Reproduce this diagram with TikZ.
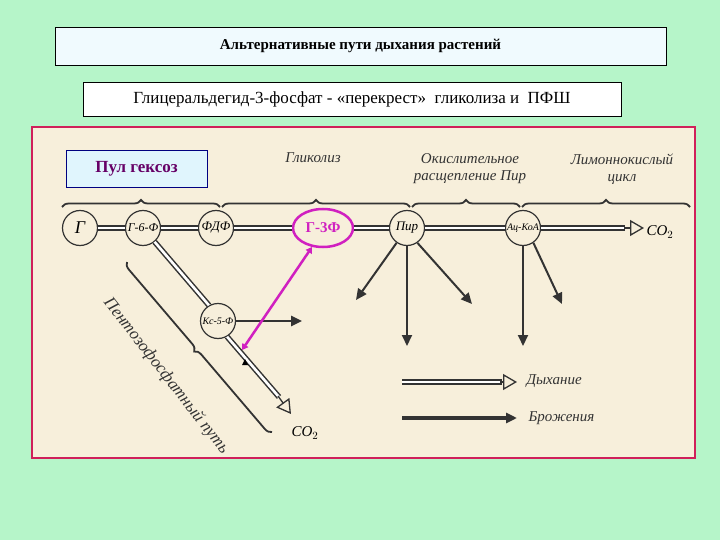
\documentclass[tikz,border=0pt]{standalone}
\usepackage{fontspec}
\setmainfont{Liberation Serif}
\usetikzlibrary{arrows.meta,decorations.pathreplacing,calc,shapes.geometric}
\definecolor{bg}{HTML}{B6F5C9}
\definecolor{beige}{HTML}{F7EFDB}
\definecolor{frame}{HTML}{D0205A}
\definecolor{mag}{HTML}{D020C0}
\tikzset{
 met/.style={circle,draw=black!80,line width=1.2pt,fill=beige,minimum size=35pt,inner sep=0pt,font=\itshape},
 dbl/.style={draw=black!80,double=white,double distance=2.6pt,line width=1.5pt},
 ferm/.style={draw=black!80,line width=2pt,-{Triangle[length=11pt,width=10pt]}},
 brc/.style={draw=black!80,line width=1.8pt,decorate,decoration={brace,amplitude=7pt}},
 lbl/.style={font=\itshape\fontsize{15}{17}\selectfont,align=center,text=black!80},
 opentip/.style={draw=black!80,line width=1.3pt,-{Triangle[open,length=14pt,width=16pt]}}
}
\begin{document}
\begin{tikzpicture}[x=1pt,y=-1pt]
\useasboundingbox (0,0) rectangle (720,540);
\fill[bg] (0,0) rectangle (720,540);
\node[draw,fill=cyan!6,minimum width=611pt,minimum height=38pt,font=\bfseries\fontsize{15}{17}\selectfont] (title) at (360.5,46) {Альтернативные пути дыхания растений};
\node[draw,fill=white,minimum width=538pt,minimum height=34pt,font=\fontsize{17}{19}\selectfont] (sub) at (352,99) {Глицеральдегид-3-фосфат - «перекрест»\ \ гликолиза и\ \ ПФШ};
\node[draw=frame,line width=2pt,fill=beige,minimum width=663pt,minimum height=331pt] (frm) at (363.5,292.5) {};
\node[draw=blue!50!black,fill=cyan!12,minimum width=141pt,minimum height=37pt,font=\bfseries\fontsize{17}{19}\selectfont,text=violet!80!black] (pool) at (136.5,168.5) {Пул гексоз};
% braces
\draw[brc] (62,207) -- (220,207);
\draw[brc] (222,207) -- (410,207);
\draw[brc] (412,207) -- (520,207);
\draw[brc] (522,207) -- (690,207);
\node[lbl] (gl) at (313,158) {Гликолиз};
\node[lbl] (ok) at (470,169) {Окислительное\\расщепление Пир};
\node[lbl] (lim) at (622,169) {Лимоннокислый\\цикл};
% metabolites
\node[met,font=\itshape\fontsize{18}{20}\selectfont] (G) at (80,228) {Г};
\node[met,font=\itshape\fontsize{12}{14}\selectfont] (G6F) at (143,228) {Г-6-Ф};
\node[met,font=\itshape\fontsize{13}{15}\selectfont] (FDF) at (216,228) {ФДФ};
\node[draw=mag,line width=2.5pt,ellipse,fill=beige,minimum width=60pt,minimum height=38pt,inner sep=0pt,font=\bfseries\fontsize{15}{17}\selectfont,text=mag] (G3F) at (323,228) {Г-3Ф};
\node[met,font=\itshape\fontsize{13}{15}\selectfont] (Pir) at (407,228) {Пир};
\node[met,font=\itshape\fontsize{10}{12}\selectfont] (Ac) at (523,228) {Ац-КоА};
\node[font=\itshape\fontsize{15}{17}\selectfont] (co2a) at (660,232) {CO$_2$};
\node[met,font=\itshape\fontsize{10}{12}\selectfont] (Ks) at (218,321) {Кс-5-Ф};
\node[font=\itshape\fontsize{15}{17}\selectfont] (co2b) at (305,433) {CO$_2$};
% main path
\draw[dbl] (G) -- (G6F);
\draw[dbl] (G6F) -- (FDF);
\draw[dbl] (FDF) -- (G3F);
\draw[dbl] (G3F) -- (Pir);
\draw[dbl] (Pir) -- (Ac);
\draw[dbl] (Ac) -- (625,228);
\coordinate (ea) at (624,228);
\draw[opentip] (ea) -- (644,228);
% PPP
\draw[dbl] (G6F.-50) -- (Ks.120);
\draw[dbl] (Ks.-60) -- (279,397);
\draw[opentip] (278,396) -- (291,414);
\draw[ferm,line width=2.5pt] (Ks) ++(17.5,0) -- (302,321);
% fermentation arrows
\coordinate (a1) at (356,300); \coordinate (a2) at (407,346); \coordinate (a3) at (472,304);
\coordinate (a4) at (523,346); \coordinate (a5) at (562,304);
\draw[ferm] (Pir.-125) -- (a1);
\draw[ferm] (Pir) ++(0,17.5) -- (a2);
\draw[ferm] (Pir.-55) -- (a3);
\draw[ferm] (Ac) ++(0,17.5) -- (a4);
\draw[ferm] (Ac.-55) -- (a5);
% magenta link
\coordinate (km) at (242,350);
\draw[mag,line width=2.5pt,{Triangle[length=6pt,width=7pt]}-{Triangle[length=6pt,width=7pt]}] (G3F.-120) -- (km);
\fill (245,359) -- (242,365) -- (248,365) -- cycle;
% PPP brace and label
\draw[brc] (272,432) -- (127,262);
\node[lbl,rotate=-52,font=\itshape\fontsize{17}{19}\selectfont] (ppp) at (166,376) {Пентозофосфатный путь};
% legend
\draw[dbl] (402,382) -- (502,382);
\draw[opentip] (500,382) -- (517,382);
\node[lbl,anchor=west] (l1) at (523,381) {Дыхание};
\draw[ferm,line width=3.5pt] (402,418) -- (517,418);
\node[lbl,anchor=west] (l2) at (525,418) {Брожения};
\end{tikzpicture}
\end{document}
